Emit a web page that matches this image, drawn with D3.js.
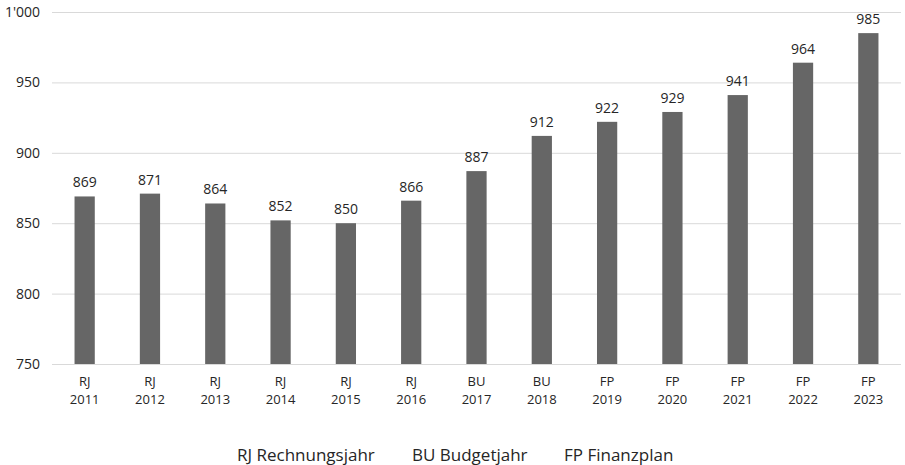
<!DOCTYPE html>
<html>
<head>
<meta charset="utf-8">
<script src="https://cdn.jsdelivr.net/npm/d3@7"></script>
<style>
	body { margin: 0; background: #fff; }
	text { font-family: "Open Sans", "Noto Sans", sans-serif; fill: #262626; }
</style>
</head>
<body>
<div id="viz_div"></div>
<script>
// Kategorien: Kuerzel und Jahr (zweizeilige Achsenbeschriftung)
var kinds = ['RJ', 'RJ', 'RJ', 'RJ', 'RJ', 'RJ', 'BU', 'BU', 'FP', 'FP', 'FP', 'FP', 'FP'];
var years = [2011, 2012, 2013, 2014, 2015, 2016, 2017, 2018, 2019, 2020, 2021, 2022, 2023];
var values = [869, 871, 864, 852, 850, 866, 887, 912, 922, 929, 941, 964, 985];
var y_ticks = [750, 800, 850, 900, 950, 1000];
var legend_items = ['RJ Rechnungsjahr', 'BU Budgetjahr', 'FP Finanzplan'];

var w = 905,
    h = 465;

var plot = { left: 52, right: 901, top: 12, bottom: 364 };

var x = d3.scaleBand()
			.domain(years)
			.range([plot.left, plot.right])
			.paddingInner(0.69)
			.paddingOuter(0.345);

var y = d3.scaleLinear()
			.domain([750, 1000])
			.range([plot.bottom, plot.top]);

function fmt(v) {
	// Schweizer Tausendertrennzeichen
	return d3.format(',')(v).replace(/,/g, "'");
}

function generate_viz() {
	var svg = d3.select("#viz_div")
				.append("svg")
				.attr("width", w)
				.attr("height", h);

	// gridlines + y labels
	var yAxis = d3.axisLeft(y)
					.tickValues(y_ticks)
					.tickSize(-(plot.right - plot.left))
					.tickPadding(12)
					.tickFormat(fmt);

	var gy = svg.append("g")
				.attr("transform", "translate(" + plot.left + ",0)")
				.call(yAxis);
	gy.select(".domain").remove();
	gy.selectAll(".tick line").attr("stroke", "#d9d9d9").attr("stroke-width", 1);
	gy.selectAll(".tick text")
		.style("font-size", "14px")
		.style("font-family", '"Open Sans", "Noto Sans", sans-serif')
		.attr("fill", "#262626");

	svg.selectAll("rect.bar")
		.data(values)
		.enter()
		.append("rect")
		.attr("class", "bar")
		.attr("x", function(d, i) { return x(years[i]); })
		.attr("y", function(d) { return y(d); })
		.attr("width", x.bandwidth())
		.attr("height", function(d) { return y(750) - y(d); })
		.attr("fill", "#666666");

	svg.selectAll("text.val")
		.data(values)
		.enter()
		.append("text")
		.attr("class", "val")
		.attr("x", function(d, i) { return x(years[i]) + x.bandwidth() / 2; })
		.attr("y", function(d) { return y(d) - 9; })
		.attr("text-anchor", "middle")
		.style("font-size", "14px")
		.text(function(d) { return fmt(d); });

	// category labels, two separate lines
	var xAxis = d3.axisBottom(x).tickSize(0).tickPadding(0);
	var gx = svg.append("g")
				.attr("transform", "translate(0," + plot.bottom + ")")
				.call(xAxis);
	gx.select(".domain").remove();
	gx.selectAll(".tick text").remove();
	gx.selectAll(".tick").each(function(d, i) {
		var tick = d3.select(this);
		tick.append("text")
			.attr("text-anchor", "middle")
			.attr("y", 22)
			.style("font-size", "13px")
			.text(kinds[i]);
		tick.append("text")
			.attr("text-anchor", "middle")
			.attr("y", 40)
			.style("font-size", "13px")
			.text(years[i]);
	});

	// legend
	var legend_x = [237, 412, 564];
	svg.selectAll("text.legend")
		.data(legend_items)
		.enter()
		.append("text")
		.attr("class", "legend")
		.attr("x", function(d, i) { return legend_x[i]; })
		.attr("y", 461)
		.style("font-size", "17px")
		.text(function(d) { return d; });
} // generate_viz()

generate_viz();
</script>
</body>
</html>
